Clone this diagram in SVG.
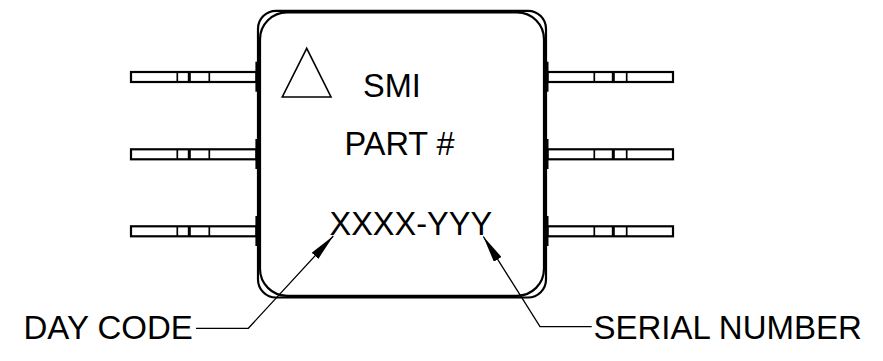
<svg xmlns="http://www.w3.org/2000/svg" width="883" height="361" viewBox="0 0 883 361">
  <style>
    .ln { fill: none; stroke: #000; stroke-width: 2.2; }
    .lead { fill: #fff; stroke: #000; stroke-width: 2.2; }
    .div { stroke: #000; stroke-width: 1.7; }
    .divk { stroke: #000; stroke-width: 3; }
    .bar { stroke: #000; stroke-width: 1.8; }
    .leader { fill: none; stroke: #000; stroke-width: 1.3; }
    .t { font-family: "Liberation Sans", Arial, sans-serif; font-size: 32.5px; fill: #000; }
    .tl { font-family: "Liberation Sans", Arial, sans-serif; font-size: 33px; fill: #000; }
  </style>
  <defs>
    <marker id="arrow" markerUnits="userSpaceOnUse" viewBox="0 0 27 9" refX="27" refY="4.5" markerWidth="27" markerHeight="9" orient="auto">
      <path d="M0,0 L27,4.5 L0,9 Z" fill="#000"/>
    </marker>
    <g id="leadL">
      <rect class="lead" x="131" y="-5" width="125.5" height="10"/>
      <line class="div" x1="177.3" y1="-5" x2="177.3" y2="5"/>
      <line class="divk" x1="189.3" y1="-5" x2="189.3" y2="5"/>
      <line class="div" x1="209.3" y1="-5" x2="209.3" y2="5"/>
      <line class="bar" x1="256.3" y1="-15.3" x2="256.3" y2="14.7"/>
    </g>
    <g id="leadR">
      <rect class="lead" x="547.5" y="-5" width="125.5" height="10"/>
      <line class="div" x1="594.3" y1="-5" x2="594.3" y2="5"/>
      <line class="divk" x1="613.3" y1="-5" x2="613.3" y2="5"/>
      <line class="div" x1="626.7" y1="-5" x2="626.7" y2="5"/>
      <line class="bar" x1="547.6" y1="-15.3" x2="547.6" y2="14.7"/>
    </g>
  </defs>

  <g id="leads">
    <use href="#leadL" transform="translate(0,77)"/>
    <use href="#leadL" transform="translate(0,154.3)"/>
    <use href="#leadL" transform="translate(0,231.3)"/>
    <use href="#leadR" transform="translate(0,77)"/>
    <use href="#leadR" transform="translate(0,154.3)"/>
    <use href="#leadR" transform="translate(0,231.3)"/>
  </g>

  <g id="body">
    <rect class="ln" x="258" y="10.8" width="288" height="286.7" rx="18" ry="18"/>
    <rect class="ln" x="260" y="12.4" width="284" height="283.4" rx="27" ry="27"/>
  </g>

  <g id="markings">
    <polygon id="triangle" points="306.7,48.3 282.3,97 331,97" fill="none" stroke="#000" stroke-width="1.6"/>
    <text id="smi" class="t" x="363" y="97.3">SMI</text>
    <text id="part" class="t" x="344.5" y="155">PART #</text>
    <text id="code" class="t" x="329.5" y="235">XXXX-YYY</text>
  </g>

  <g id="labels">
    <text id="daycode" class="tl" x="23.5" y="339">DAY CODE</text>
    <text id="serial" class="tl" x="593.5" y="339">SERIAL NUMBER</text>
  </g>

  <g id="connectors">
    <polyline class="leader" points="196,328.3 248.3,328.3 333.3,236" marker-end="url(#arrow)"/>
    <polyline class="leader" points="591.7,326.7 540,326.7 483.3,236.5" marker-end="url(#arrow)"/>
  </g>
</svg>
